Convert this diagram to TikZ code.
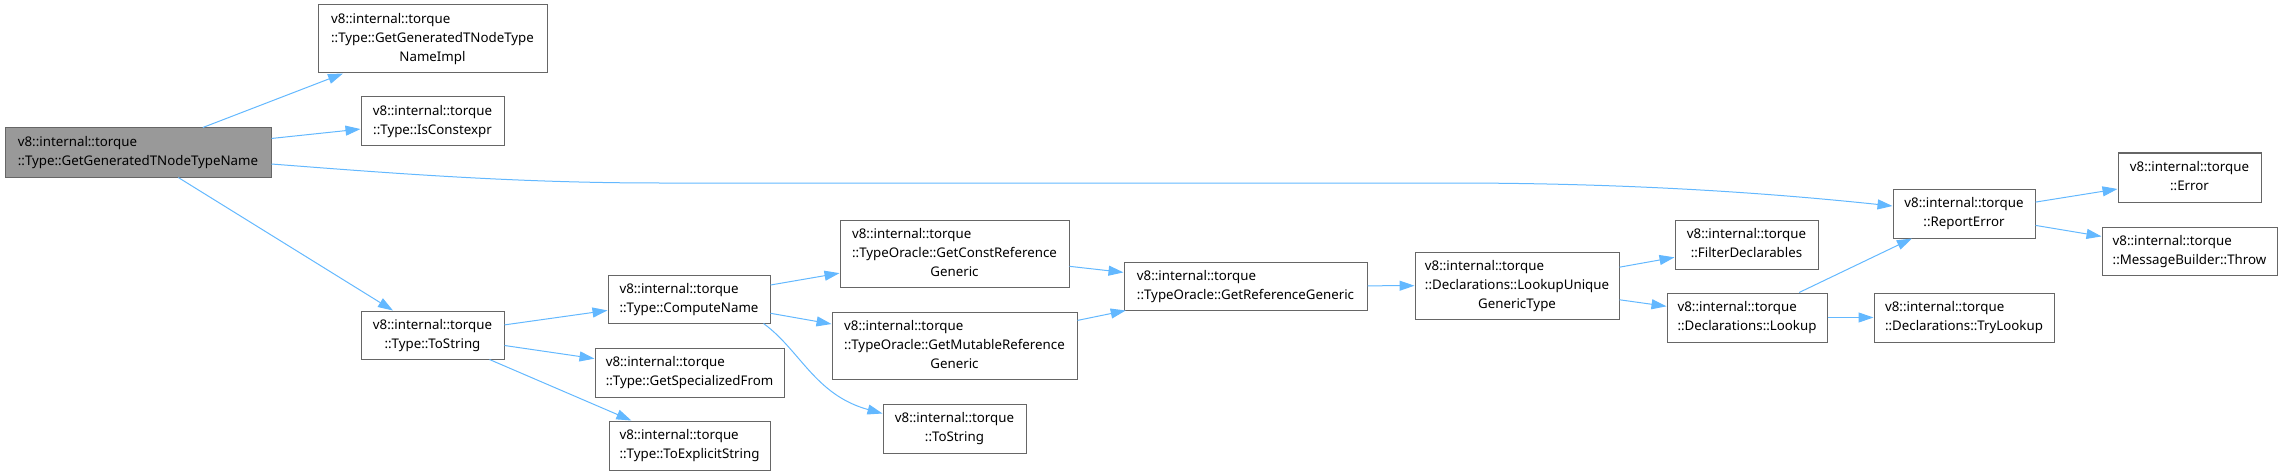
\documentclass[tikz,border=0pt]{standalone}
\usepackage{fontspec}
\setmainfont{Noto Sans}
\usepackage{xcolor}
\usepackage{tikz}
\usetikzlibrary{arrows.meta}

\definecolor{edgeblue}{HTML}{63B8FF}
\definecolor{boxline}{HTML}{666666}
\definecolor{curfill}{HTML}{999999}

% label: all lines left, last line centred
\newcommand{\fnlabel}[2]{\begin{tabular}{@{}l@{}}#1\\\multicolumn{1}{@{}c@{}}{#2}\end{tabular}}

\begin{document}
\begin{tikzpicture}[x=1pt, y=-1pt,
    fnbox/.style={rectangle, draw=boxline, line width=1pt, fill=white, inner sep=0pt,
        font=\fontsize{13.3}{19}\selectfont},
    curbox/.style={fnbox, fill=curfill},
    boxsize/.style 2 args={minimum width=#1pt, minimum height=#2pt},
    call/.style={draw=edgeblue, line width=1pt, -{Triangle[length=15pt, width=10pt]}}]
    \useasboundingbox (0,0) rectangle (2283,476);

    % Caller
    \node[curbox, boxsize={266}{49}] (main) at (138,152.5) {\fnlabel{v8::internal::torque}{::Type::GetGeneratedTNodeTypeName}};

    % First level
    \node[fnbox, boxsize={229}{68}] (nameimpl) at (432.5,39) {\fnlabel{v8::internal::torque\\::Type::GetGeneratedTNodeType}{NameImpl}};
    \node[fnbox, boxsize={143}{49}] (isconst) at (432.5,121.5) {\fnlabel{v8::internal::torque}{::Type::IsConstexpr}};
    \node[fnbox, boxsize={143}{48}] (tostring) at (432.5,335) {\fnlabel{v8::internal::torque}{::Type::ToString}};
    \draw[call] (main) -- (nameimpl);
    \draw[call] (main) -- (isconst);
    \draw[call] (main) -- (tostring);

    % Type::ToString callees
    \node[fnbox, boxsize={162}{48}] (compute) at (689,299) {\fnlabel{v8::internal::torque}{::Type::ComputeName}};
    \node[fnbox, boxsize={189}{49}] (specfrom) at (689.5,372.5) {\fnlabel{v8::internal::torque}{::Type::GetSpecializedFrom}};
    \node[fnbox, boxsize={161}{49}] (explicit) at (689.5,445.5) {\fnlabel{v8::internal::torque}{::Type::ToExplicitString}};
    \draw[call] (tostring) -- (compute);
    \draw[call] (tostring) -- (specfrom);
    \draw[call] (tostring) -- (explicit);

    % ComputeName callees
    \node[fnbox, boxsize={229}{67}] (constref) at (954.5,253.5) {\fnlabel{v8::internal::torque\\::TypeOracle::GetConstReference}{Generic}};
    \node[fnbox, boxsize={245}{67}] (mutref) at (954.5,345.5) {\fnlabel{v8::internal::torque\\::TypeOracle::GetMutableReference}{Generic}};
    \node[fnbox, boxsize={143}{49}] (tqstring) at (954.5,428.5) {\fnlabel{v8::internal::torque}{::ToString}};
    \draw[call] (compute) -- (constref);
    \draw[call] (compute) -- (mutref);
    \draw[call] ([xshift=-7pt]compute.south east) .. controls (800,350) and (815,395) .. ([yshift=15pt]tqstring.west);

    % Reference generic
    \node[fnbox, boxsize={243}{48}] (refgen) at (1245.5,286) {\fnlabel{v8::internal::torque}{::TypeOracle::GetReferenceGeneric}};
    \draw[call] (constref) -- (refgen);
    \draw[call] (mutref) -- (refgen);

    % Declarations
    \node[fnbox, boxsize={204}{67}] (lookupuniq) at (1517,285.5) {\fnlabel{v8::internal::torque\\::Declarations::LookupUnique}{GenericType}};
    \node[fnbox, boxsize={143}{49}] (filter) at (1746.5,244.5) {\fnlabel{v8::internal::torque}{::FilterDeclarables}};
    \node[fnbox, boxsize={160}{49}] (lookup) at (1747,317.5) {\fnlabel{v8::internal::torque}{::Declarations::Lookup}};
    \node[fnbox, boxsize={180}{49}] (trylookup) at (1964,317.5) {\fnlabel{v8::internal::torque}{::Declarations::TryLookup}};
    \draw[call] (refgen) -- (lookupuniq);
    \draw[call] (lookupuniq) -- (filter);
    \draw[call] (lookupuniq) -- (lookup);
    \draw[call] (lookup) -- (trylookup);

    % Error reporting
    \node[fnbox, boxsize={142}{49}] (reporterr) at (1964,213.5) {\fnlabel{v8::internal::torque}{::ReportError}};
    \node[fnbox, boxsize={143}{49}] (error) at (2189.5,177.5) {\fnlabel{v8::internal::torque}{::Error}};
    \node[fnbox, boxsize={175}{48}] (throw) at (2189.5,251) {\fnlabel{v8::internal::torque}{::MessageBuilder::Throw}};
    \draw[call] (lookup) -- (reporterr);
    \draw[call] (reporterr) -- (error);
    \draw[call] (reporterr) -- (throw);
    \draw[call] ([yshift=-11.5pt]main.east) .. controls (400,174) and (520,183) .. (660,183)
        -- (1450,183) .. controls (1620,183) and (1760,192) .. ([yshift=7.5pt]reporterr.west);
\end{tikzpicture}
\end{document}
